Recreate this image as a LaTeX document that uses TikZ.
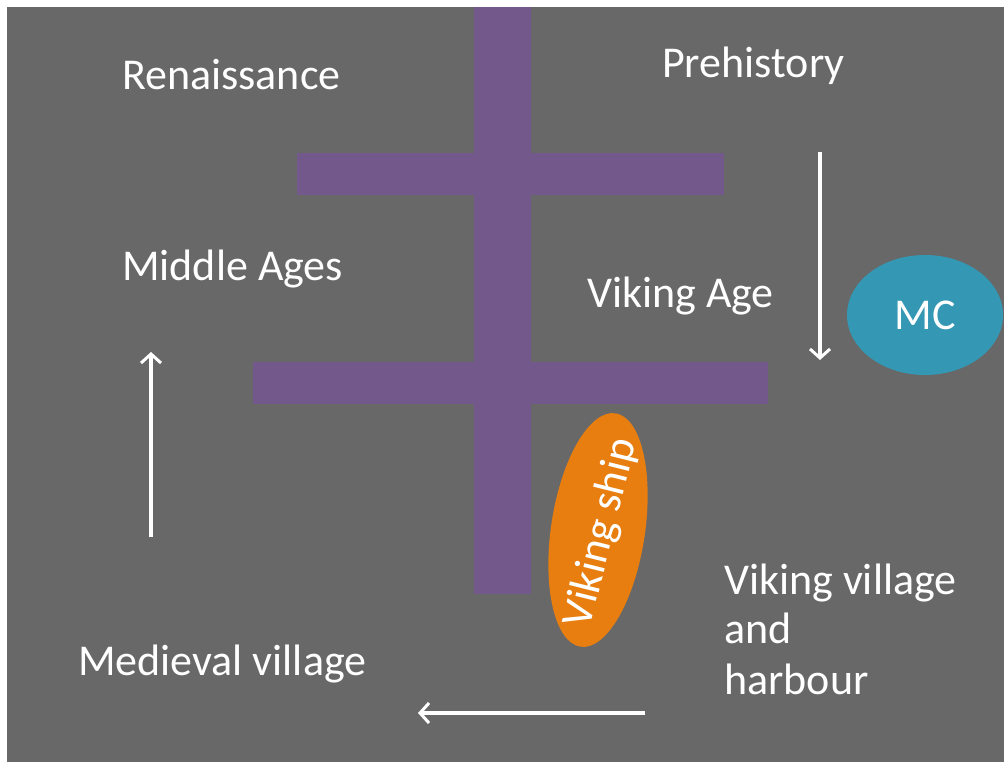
\documentclass[tikz,border=0pt]{standalone}
\usepackage{fontspec}
\setmainfont{Carlito}
\usetikzlibrary{arrows.meta,shapes.geometric}
\definecolor{slate}{RGB}{104,104,104}
\definecolor{bar}{RGB}{115,88,140}
\definecolor{shipfill}{RGB}{232,126,16}
\definecolor{mcfill}{RGB}{52,152,180}
\tikzset{
  bigtext/.style={text=white, font=\fontsize{44}{50}\selectfont},
  label/.style={bigtext, inner sep=0pt, anchor=base west},
  barpart/.style={fill=bar, draw=none},
  flow/.style={draw=white, line width=3.5pt, -{Straight Barb[length=9pt,width=20pt,line width=3pt]}},
}
\begin{document}
\begin{tikzpicture}[x=1pt,y=-1pt]
  \useasboundingbox (0,0) rectangle (1004,762);
  \fill[white] (0,0) rectangle (1004,762);
  \fill[slate] (7,7) rectangle (1004,762);

  % cross of purple bars
  \path[barpart] (474,7) rectangle (531,594);
  \path[barpart] (297,153) rectangle (724,195);
  \path[barpart] (253,362) rectangle (768,404);

  % period and place labels
  \node[label] (ren) at (122,90) {Renaissance};
  \node[label] (pre) at (662,78) {Prehistory};
  \node[label] (mid) at (122,280) {Middle Ages};
  \node[label] (vik) at (587,307) {Viking Age};
  \node[label] (med) at (78,675) {Medieval village};
  \node[label] (harb1) at (724,594) {Viking village};
  \node[label] (harb2) at (724,643) {and};
  \node[label] (harb3) at (724,694) {harbour};

  % coloured ovals
  \node[ellipse, fill=mcfill, minimum width=156pt, minimum height=120pt,
        bigtext] (mc) at (925,315) {MC};
  \node[ellipse, fill=shipfill, minimum width=236pt, minimum height=94pt,
        rotate=81.5] (ship) at (598,530) {};
  \node[bigtext, rotate=76, inner sep=0pt] (shiptext) at (602,533) {Viking ship};

  % direction arrows
  \coordinate (dA) at (820,152);
  \coordinate (dB) at (820,360);
  \coordinate (uA) at (151,537);
  \coordinate (uB) at (151,352);
  \coordinate (lA) at (645,713);
  \coordinate (lB) at (418,713);
  \draw[flow] (dA) -- (dB);
  \draw[flow] (uA) -- (uB);
  \draw[flow] (lA) -- (lB);
\end{tikzpicture}
\end{document}
